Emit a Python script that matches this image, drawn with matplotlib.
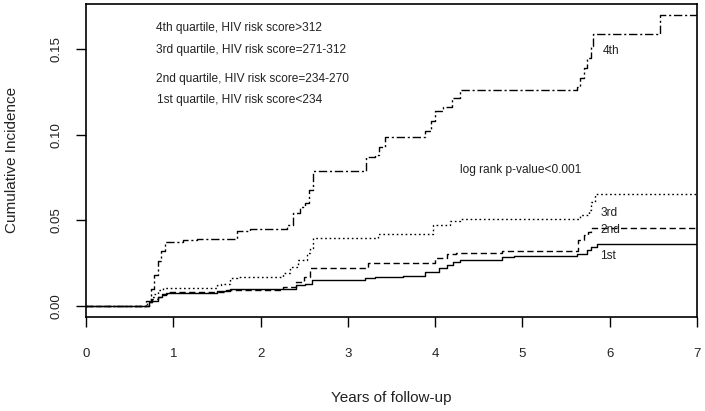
import matplotlib

matplotlib.use("Agg")
import matplotlib.pyplot as plt

plt.rcParams["font.family"] = ["Liberation Sans", "DejaVu Sans"]

# step curves (time in years, cumulative incidence)
t_q4 = [0, 0.69, 0.74, 0.78, 0.82, 0.86, 0.905, 1.11, 1.27, 1.73, 1.88, 2.30, 2.37,
        2.45, 2.51, 2.55, 2.60, 3.21, 3.31, 3.36, 3.42, 3.88, 3.95, 4.00, 4.09, 4.19,
        4.28, 5.62, 5.66, 5.70, 5.74, 5.79, 5.81, 6.58, 7.0]
v_q4 = [0, 0.003, 0.010, 0.018, 0.026, 0.032, 0.0375, 0.0385, 0.039, 0.044, 0.045,
        0.047, 0.054, 0.058, 0.060, 0.068, 0.0786, 0.087, 0.088, 0.093, 0.099, 0.102,
        0.108, 0.1137, 0.1166, 0.1216, 0.126, 0.128, 0.1333, 0.139, 0.145, 0.1518,
        0.159, 0.170, 0.170]

t_q3 = [0, 0.70, 0.74, 0.78, 0.83, 0.885, 1.50, 1.55, 1.65, 1.73, 2.26, 2.34, 2.43,
        2.53, 2.57, 2.60, 3.35, 3.98, 4.17, 4.28, 5.66, 5.76, 5.79, 5.83, 7.0]
v_q3 = [0, 0.002, 0.005, 0.007, 0.009, 0.0106, 0.012, 0.013, 0.016, 0.0166, 0.019,
        0.0229, 0.0268, 0.0307, 0.034, 0.0395, 0.042, 0.0473, 0.0498, 0.0508, 0.053,
        0.056, 0.061, 0.0655, 0.0655]

t_q2 = [0, 0.72, 0.76, 0.82, 0.87, 0.925, 1.60, 2.26, 2.40, 2.50, 2.57, 3.23, 4.00,
        4.13, 4.24, 4.76, 5.64, 5.70, 5.75, 5.79, 7.0]
v_q2 = [0, 0.002, 0.004, 0.005, 0.007, 0.008, 0.0092, 0.011, 0.014, 0.0166, 0.0223,
        0.0252, 0.0278, 0.030, 0.0307, 0.0322, 0.0385, 0.0414, 0.043, 0.0454, 0.0454]

t_q1 = [0, 0.72, 0.76, 0.82, 0.87, 0.92, 1.50, 1.65, 2.30, 2.41, 2.51, 2.59, 3.20,
        3.31, 3.63, 3.88, 4.04, 4.13, 4.21, 4.28, 4.76, 4.90, 5.62, 5.74, 5.79, 5.85, 7.0]
v_q1 = [0, 0.002, 0.003, 0.005, 0.006, 0.0076, 0.0088, 0.0096, 0.010, 0.012, 0.013,
        0.015, 0.016, 0.0166, 0.0176, 0.0196, 0.022, 0.0239, 0.0258, 0.0268, 0.0287,
        0.029, 0.0303, 0.0327, 0.0346, 0.0362, 0.0362]

legend_lines = [
    "4th quartile, HIV risk score>312",
    "3rd quartile, HIV risk score=271-312",
    "2nd quartile, HIV risk score=234-270",
    "1st quartile, HIV risk score<234",
]
end_labels = ["4th", "3rd", "2nd", "1st"]
x_ticks = [0, 1, 2, 3, 4, 5, 6, 7]
y_ticks = [0.0, 0.05, 0.10, 0.15]
y_ticklabels = ["0.00", "0.05", "0.10", "0.15"]

TXT = "#222222"

fig = plt.figure(figsize=(7.05, 4.11), dpi=100)
ax = fig.add_axes([0.122, 0.2287, 0.8667, 0.7616])

curves = [
    (t_q4, v_q4, (0, (6, 2, 1.5, 2))),
    (t_q3, v_q3, (0, (1.2, 2))),
    (t_q2, v_q2, (0, (4.5, 2.5))),
    (t_q1, v_q1, "-"),
]
for t, v, ls in curves:
    ax.step(t, v, where="post", color="black", lw=1.0, linestyle=ls)

ax.set_xlim(0, 7)
ax.set_ylim(-0.0066, 0.1766)
ax.set_xticks(x_ticks)
ax.set_yticks(y_ticks)
ax.set_yticklabels(y_ticklabels, rotation=90, va="center")
ax.tick_params(direction="out", length=7.5, width=1.0, colors="black",
               labelsize=9.5, labelcolor=TXT)
ax.tick_params(axis="x", pad=15)
ax.tick_params(axis="y", pad=9.5)
for sp in ax.spines.values():
    sp.set_linewidth(1.2)

# legend-like text block
leg_y = [0.1626, 0.1495, 0.1329, 0.1206]
leg_x = [0.80, 0.80, 0.80, 0.81]
for txt, x, y in zip(legend_lines, leg_x, leg_y):
    ax.text(x, y, txt, fontsize=8.6, color=TXT, va="center", ha="left")

# curve end labels
lab_x = [5.92, 5.89, 5.89, 5.89]
lab_y = [0.149, 0.0545, 0.0444, 0.029]
for txt, x, y in zip(end_labels, lab_x, lab_y):
    ax.text(x, y, txt, fontsize=8.6, color=TXT, va="center", ha="left")

ax.text(4.28, 0.0795, "log rank p-value<0.001", fontsize=8.6, color=TXT,
        va="center", ha="left")

fig.text(0.555, 1 - 398 / 411, "Years of follow-up", fontsize=11, color=TXT,
         ha="center", va="center")
fig.text(12 / 705, 1 - 160 / 411, "Cumulative Incidence", fontsize=11, color=TXT,
         ha="center", va="center", rotation=90)

fig.savefig("out.png", dpi=100)
